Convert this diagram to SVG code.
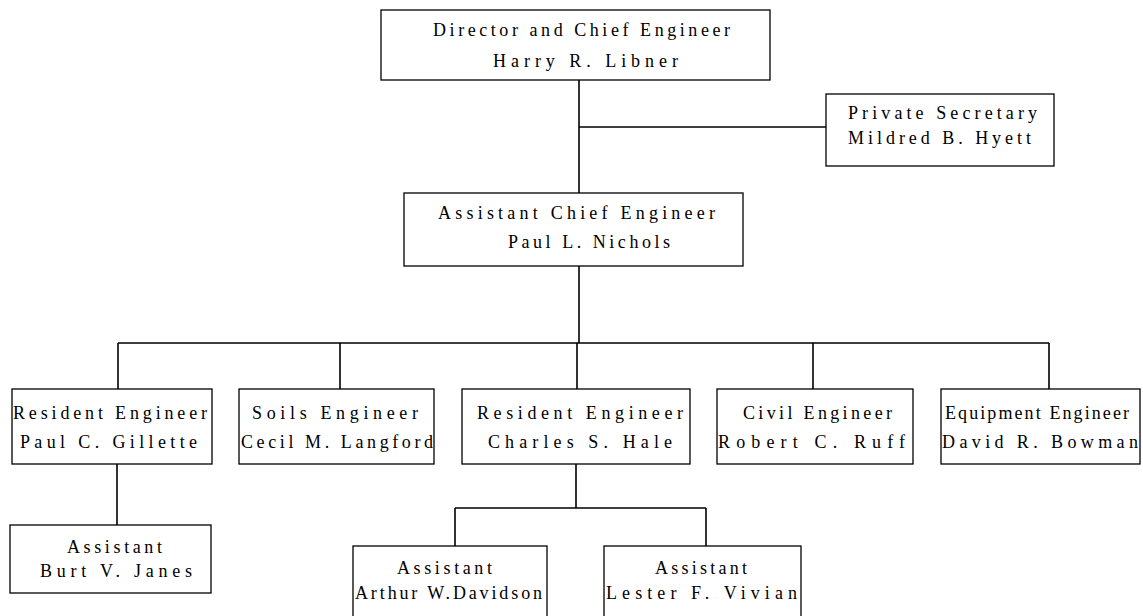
<svg xmlns="http://www.w3.org/2000/svg" width="1143" height="616" viewBox="0 0 1143 616">
<style>
.box{fill:#fff;stroke:#000;stroke-width:1.3}
.ln{stroke:#000;stroke-width:1.6;fill:none}
text{font-family:"Liberation Serif","DejaVu Serif",serif;font-size:18px;fill:#000}
</style>
<rect width="1143" height="616" fill="#fff"/>
<g id="connectors">
<path class="ln" d="M579 80V193M579 127H826M579 266V343M118 343H1049M118 343V389M340 343V389M577 343V389M813 343V389M1049 343V389M117 464V525M576 464V508M455 508H706M455 508V546M706 508V546"/>
</g>
<g id="director"><rect class="box" x="381" y="10" width="389" height="70"/>
<text x="433" y="36" textLength="297" lengthAdjust="spacing">Director and Chief Engineer</text>
<text x="493" y="67" textLength="185" lengthAdjust="spacing">Harry R. Libner</text></g>
<g id="secretary"><rect class="box" x="826" y="94" width="228" height="72"/>
<text x="848" y="119" textLength="189" lengthAdjust="spacing">Private Secretary</text>
<text x="848" y="144" textLength="183" lengthAdjust="spacing">Mildred B. Hyett</text></g>
<g id="assistant-chief"><rect class="box" x="404" y="193" width="339" height="73"/>
<text x="438" y="219" textLength="277" lengthAdjust="spacing">Assistant Chief Engineer</text>
<text x="508" y="248" textLength="162" lengthAdjust="spacing">Paul L. Nichols</text></g>
<g id="gillette"><rect class="box" x="12" y="389" width="200" height="75"/>
<text x="13" y="419" textLength="194" lengthAdjust="spacing">Resident Engineer</text>
<text x="20" y="448" textLength="177" lengthAdjust="spacing">Paul C. Gillette</text></g>
<g id="langford"><rect class="box" x="239" y="389" width="195" height="75"/>
<text x="252" y="419" textLength="166" lengthAdjust="spacing">Soils Engineer</text>
<text x="241" y="448" textLength="192" lengthAdjust="spacing">Cecil M. Langford</text></g>
<g id="hale"><rect class="box" x="462" y="389" width="228" height="75"/>
<text x="477" y="419" textLength="206" lengthAdjust="spacing">Resident Engineer</text>
<text x="488" y="448" textLength="184" lengthAdjust="spacing">Charles S. Hale</text></g>
<g id="ruff"><rect class="box" x="717" y="389" width="196" height="75"/>
<text x="743" y="419" textLength="149" lengthAdjust="spacing">Civil Engineer</text>
<text x="718" y="448" textLength="187" lengthAdjust="spacing">Robert C. Ruff</text></g>
<g id="bowman"><rect class="box" x="941" y="389" width="199" height="75"/>
<text x="945" y="419" textLength="184" lengthAdjust="spacing">Equipment Engineer</text>
<text x="942" y="448" textLength="196" lengthAdjust="spacing">David R. Bowman</text></g>
<g id="janes"><rect class="box" x="10" y="525" width="201" height="68"/>
<text x="67" y="553" textLength="95" lengthAdjust="spacing">Assistant</text>
<text x="40" y="577" textLength="152" lengthAdjust="spacing">Burt V. Janes</text></g>
<g id="davidson"><rect class="box" x="353" y="546" width="194" height="80"/>
<text x="397" y="574" textLength="95" lengthAdjust="spacing">Assistant</text>
<text x="355" y="599" textLength="187" lengthAdjust="spacing">Arthur W.Davidson</text></g>
<g id="vivian"><rect class="box" x="604" y="546" width="197" height="80"/>
<text x="655" y="574" textLength="92" lengthAdjust="spacing">Assistant</text>
<text x="606" y="599" textLength="191" lengthAdjust="spacing">Lester F. Vivian</text></g>
</svg>
